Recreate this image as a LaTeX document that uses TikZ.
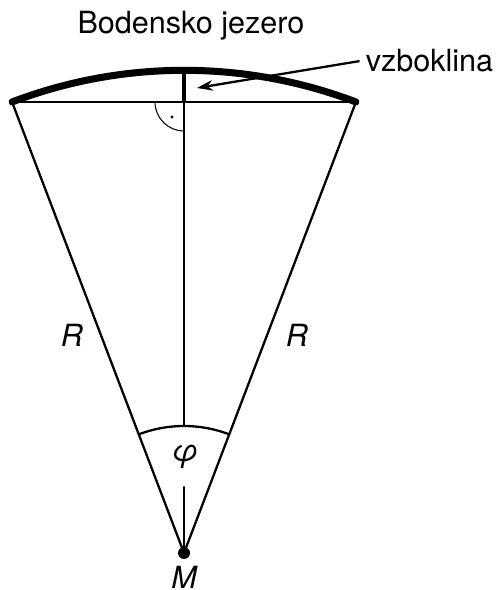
\documentclass[tikz,border=0pt]{standalone}
\usepackage{fontspec}
\setmainfont{TeX Gyre Heros}
\usetikzlibrary{arrows.meta, calc}

\begin{document}
\begin{tikzpicture}[
  x=0.02cm, y=0.02cm,
  thinline/.style={line width=1.3pt, line cap=round},
  lakearc/.style={line width=4pt, line cap=round},
  bulge/.style={line width=2.8pt},
  pointer/.style={-{Stealth[length=9pt, width=6pt]}, line width=1.3pt},
  lbl/.style={font=\fontsize{17.4}{20}\selectfont},
  mathlbl/.style={font=\fontsize{17.4}{20}\selectfont\itshape},
]
\useasboundingbox (-184,-37) rectangle (312,553);

\coordinate (M) at (0,0);
\coordinate (A) at (110.87:482.7);
\coordinate (B) at (69.13:482.7);
\coordinate (T) at (0,482.7);
\coordinate (F) at (0,451);
\coordinate (phiTop) at (0,127);
\coordinate (phiGap) at (0,66);
\coordinate (phiL) at (110.87:127);
\coordinate (bulgeTip) at (13,465);

% sector and chord
\draw[thinline] (A) -- (M) -- (B);
\draw[thinline] (A) -- (B);
\draw[lakearc] (A) arc[start angle=110.87, end angle=69.13, radius=482.7];
\draw[bulge] (F) -- (T);

% middle line with gap for the angle
\draw[thinline] (F) -- (phiTop);
\draw[thinline] (phiGap) -- (M);
\draw[thinline] (phiL) arc[start angle=110.87, end angle=69.13, radius=127];

% right angle
\draw[line width=0.6pt] (F) ++(-29,0) arc[start angle=180, end angle=270, radius=29];
\fill ($(F)+(-12,-15)$) circle[radius=1.7];
\fill (M) circle[radius=6];

\node[lbl, anchor=base] (lake) at (7,519) {Bodensko jezero};
\node[lbl, anchor=base] (bulgeLbl) at (245.5,481) {vzboklina};
\draw[pointer] (bulgeLbl.west) -- (bulgeTip);

\node[mathlbl] (rLeft) at (-112,218) {R};
\node[mathlbl] (rRight) at (113,218) {R};
\node[mathlbl] (phi) at (1,96) {φ};
\node[mathlbl] (mLbl) at (0,-24) {M};
\end{tikzpicture}
\end{document}
